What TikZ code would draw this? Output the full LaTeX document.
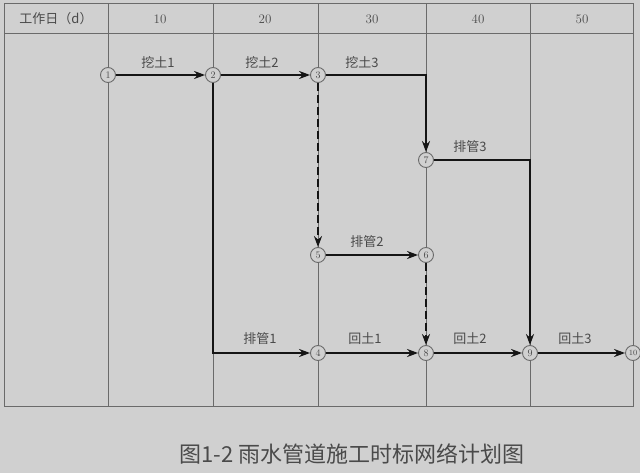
\documentclass[tikz,border=0pt]{standalone}
\usepackage{fontspec}
\newfontfamily\cjk{Noto Sans CJK SC}
\usetikzlibrary{arrows.meta}
\definecolor{bgc}{HTML}{D0D0D0}
\definecolor{gridc}{HTML}{6A6A6A}
\definecolor{txtc}{HTML}{4A4A4A}
\definecolor{arrc}{HTML}{151515}
\begin{document}
\begin{tikzpicture}[x=1pt,y=-1pt,
  ev/.style={circle,draw=gridc,fill=bgc,line width=0.9pt,minimum size=15pt,inner sep=0pt,text=txtc,font=\fontsize{10}{10}\selectfont},
  work/.style={draw=arrc,line width=2pt,-{Stealth[length=11pt,width=8pt]}},
  dummy/.style={work,dash pattern=on 8pt off 4pt},
  gridline/.style={draw=gridc,line width=1pt},
  lbl/.style={text=txtc,font=\cjk\fontsize{13}{13}\selectfont},
  hdr/.style={text=txtc,font=\fontsize{13}{13}\selectfont}]
\fill[bgc] (0,0) rectangle (640,473);
\useasboundingbox (0,0) rectangle (640,473);
% grid
\draw[gridline] (4,4) rectangle (633,406);
\draw[gridline] (4,34) -- (633,34);
\foreach \x in {108,213,318,426,530} \draw[gridline] (\x,4) -- (\x,406);
% header
\node[hdr] (h0) at (56,19) {\cjk 工作日（d）};
\node[hdr] (h1) at (160,19) {10};
\node[hdr] (h2) at (265,19) {20};
\node[hdr] (h3) at (372,19) {30};
\node[hdr] (h4) at (478,19) {40};
\node[hdr] (h5) at (582,19) {50};
% events
\node[ev] (n1) at (108,75) {1};
\node[ev] (n2) at (213,75) {2};
\node[ev] (n3) at (318,75) {3};
\node[ev] (n7) at (426,160) {7};
\node[ev] (n5) at (318,255) {5};
\node[ev] (n6) at (426,255) {6};
\node[ev] (n4) at (318,353) {4};
\node[ev] (n8) at (426,353) {8};
\node[ev] (n9) at (530,353) {9};
\node[ev,font=\fontsize{8}{8}\selectfont] (n10) at (633,353) {10};
% activities
\draw[work] (n1) -- (n2);
\draw[work] (n2) -- (n3);
\draw[work] (n3) -| (n7);
\draw[dummy] (n3) -- (n5);
\draw[work] (n7) -| (n9);
\draw[work] (n5) -- (n6);
\draw[dummy] (n6) -- (n8);
\draw[work] (n2) |- (n4);
\draw[work] (n4) -- (n8);
\draw[work] (n8) -- (n9);
\draw[work] (n9) -- (n10);
% labels
\node[lbl] (l1) at (158,63) {挖土1};
\node[lbl] (l2) at (262,63) {挖土2};
\node[lbl] (l3) at (362,63) {挖土3};
\node[lbl] (l4) at (470,147) {排管3};
\node[lbl] (l5) at (367,242) {排管2};
\node[lbl] (l6) at (260,339) {排管1};
\node[lbl] (l7) at (365,339) {回土1};
\node[lbl] (l8) at (470,339) {回土2};
\node[lbl] (l9) at (575,339) {回土3};
% caption
\node[text=txtc,font=\cjk\fontsize{22}{22}\selectfont,anchor=west] (cap) at (176,454) {图1-2\ 雨水管道施工时标网络计划图};
\end{tikzpicture}
\end{document}
